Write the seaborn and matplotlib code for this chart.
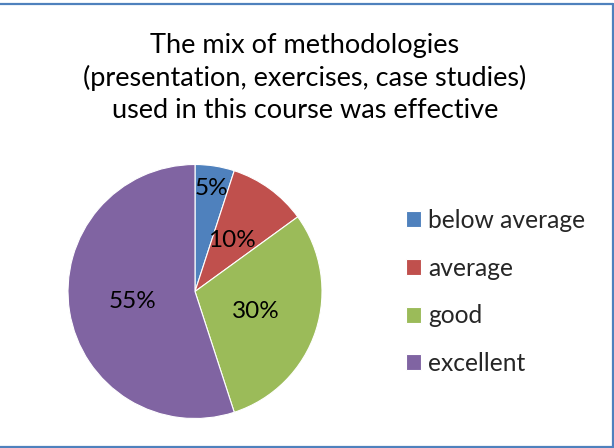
import matplotlib
matplotlib.use("Agg")
import matplotlib.pyplot as plt
from matplotlib.lines import Line2D
import seaborn as sns

# Survey results
categories = ["below average", "average", "good", "excellent"]
shares = [5, 10, 30, 55]
colors = ["#4F81BD", "#C0504D", "#9BBB59", "#8064A2"]
title = ("The mix of methodologies\n"
         "(presentation, exercises, case studies)\n"
         "used in this course was effective")

sns.set_theme(style="white")
plt.rcParams["font.family"] = ["Lato", "DejaVu Sans"]

W, H = 614, 448
fig = plt.figure(figsize=(W / 100, H / 100), dpi=100)
fig.patch.set_facecolor("white")

# Pie area: centre (195, 291.5) px, radius 127 px
cx, cy, r = 195, 291.5, 127
ax = fig.add_axes([(cx - r) / W, (H - cy - r) / H, 2 * r / W, 2 * r / H])
wedges, _, autotexts = ax.pie(
    shares, colors=colors, startangle=90, counterclock=False,
    autopct=lambda p: f"{p:.0f}%", pctdistance=0.5,
    wedgeprops=dict(edgecolor="white", linewidth=0.8),
    textprops=dict(fontsize=17.5, color="black"),
)
# the thin first slice carries its label further out
x0, y0 = autotexts[0].get_position()
autotexts[0].set_position((x0 * 0.82 / 0.5, y0 * 0.82 / 0.5))
ax.set_xlim(-1, 1)
ax.set_ylim(-1, 1)
ax.set_aspect("auto")
ax.axis("off")

fig.text(305 / W, 1 - 78 / H, title, ha="center", va="center",
         fontsize=19.5, color="black", linespacing=1.35)

fig.legend(wedges, categories, loc="center left",
           bbox_to_anchor=(406 / W, 1 - 292 / H), frameon=False,
           fontsize=17.75, handlelength=0.61, handleheight=0.61,
           handletextpad=0.28, labelspacing=1.0, borderpad=0,
           borderaxespad=0)

# chart frame
frame = dict(color="#4F81BD", linewidth=1.6, transform=fig.transFigure)
fig.add_artist(Line2D([0, 613 / W], [1 - 4.5 / H] * 2, **frame))
fig.add_artist(Line2D([0, 613 / W], [1 - 446.5 / H] * 2, **frame))
fig.add_artist(Line2D([613 / W] * 2, [1 - 4.5 / H, 1 - 446.5 / H], **frame))

fig.savefig("out.png", dpi=100, facecolor="white")
